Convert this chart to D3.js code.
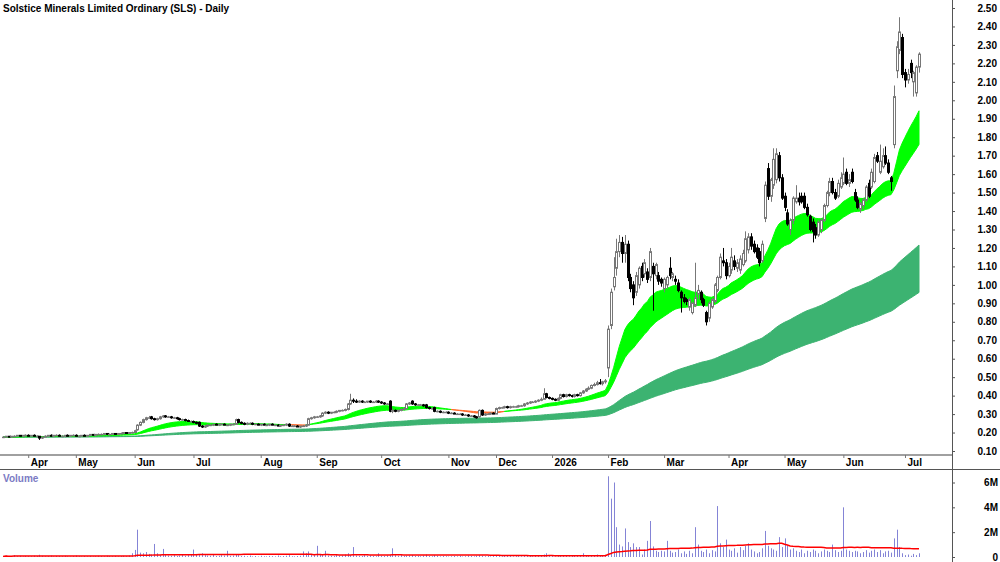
<!DOCTYPE html>
<html>
<head>
<meta charset="utf-8">
<script src="https://cdn.jsdelivr.net/npm/d3@7"></script>
<style>
  body { margin: 0; background: #fff; }
  svg { display: block; font-family: "Liberation Sans", Arial, sans-serif; font-weight: bold; }
</style>
</head>
<body>
<svg width="1000" height="562"></svg>
<script>
const TITLE = "Solstice Minerals Limited Ordinary (SLS) - Daily";

// daily candles, Mar 2025 - Jul 2026 (index = trading day)
const opens = [
  .175,.175,.18,.175,.18,.18,.185,.18,.185,.185,
  .18,.185,.18,.18,.17,.175,.18,.185,.18,.185,
  .185,.18,.18,.185,.18,.185,.185,.18,.18,.185,
  .18,.185,.19,.185,.19,.19,.19,.195,.19,.19,
  .195,.19,.195,.195,.2,.195,.2,.2,.215,.24,
  .255,.27,.28,.285,.275,.27,.275,.285,.29,.285,
  .285,.28,.28,.275,.27,.27,.265,.26,.26,.255,
  .255,.235,.23,.235,.24,.24,.245,.24,.245,.245,
  .24,.24,.245,.245,.27,.255,.25,.245,.25,.25,
  .245,.245,.24,.245,.24,.24,.245,.24,.24,.235,
  .24,.24,.245,.235,.235,.235,.23,.235,.235,.24,
  .275,.28,.285,.285,.29,.305,.31,.305,.31,.31,
  .315,.32,.32,.325,.355,.375,.37,.365,.37,.365,
  .365,.37,.365,.365,.37,.365,.36,.355,.37,.315,
  .32,.315,.32,.325,.33,.355,.37,.355,.35,.35,
  .35,.35,.335,.33,.335,.315,.315,.31,.31,.31,
  .305,.305,.3,.3,.3,.295,.295,.29,.29,.285,
  .285,.32,.295,.3,.3,.305,.3,.33,.335,.335,
  .34,.335,.34,.34,.34,.345,.345,.355,.36,.365,
  .365,.37,.375,.38,.41,.39,.385,.38,.375,.385,
  .405,.395,.405,.4,.395,.405,.4,.415,.425,.435,
  .44,.455,.46,.47,.465,.475,.55,.78,.99,1.09,
  1.18,1.23,1.17,1.22,1.04,1.0,.96,1.0,1.1,1.06,
  1.07,1.04,1.1,1.05,1.05,1.03,.98,1.0,1.09,1.04,
  1.03,1.01,.96,.93,.92,.88,.85,.89,.95,.96,
  .92,.85,.82,.88,.91,.97,1.04,1.13,1.12,1.05,
  1.08,1.13,1.09,1.08,1.11,1.13,1.19,1.26,1.22,1.2,
  1.18,1.13,1.36,1.63,1.48,1.54,1.57,1.7,1.58,1.48,
  1.39,1.3,1.35,1.45,1.47,1.48,1.48,1.42,1.37,1.34,
  1.31,1.27,1.3,1.35,1.43,1.5,1.56,1.5,1.48,1.53,
  1.55,1.61,1.55,1.61,1.5,1.46,1.41,1.43,1.46,1.55,
  1.53,1.56,1.7,1.61,1.64,1.7,1.66,1.58,1.76,2.16,
  2.27,2.34,2.15,2.11,2.2,2.1,2.04,2.18
];
const highs = [
  .18,.18,.18,.18,.185,.185,.185,.185,.19,.19,
  .185,.19,.185,.18,.18,.185,.185,.19,.185,.19,
  .19,.185,.185,.19,.185,.19,.19,.185,.185,.19,
  .185,.19,.19,.19,.195,.195,.195,.195,.195,.195,
  .195,.195,.2,.2,.2,.2,.205,.215,.245,.26,
  .275,.285,.29,.29,.28,.28,.29,.295,.295,.29,
  .29,.285,.285,.28,.275,.275,.27,.265,.265,.26,
  .26,.24,.24,.245,.245,.245,.25,.245,.25,.25,
  .245,.245,.25,.275,.275,.26,.255,.255,.255,.255,
  .25,.25,.245,.25,.245,.245,.25,.245,.245,.24,
  .245,.25,.25,.24,.24,.24,.235,.24,.245,.28,
  .285,.29,.29,.295,.31,.315,.315,.31,.315,.32,
  .32,.325,.33,.36,.41,.385,.38,.375,.375,.37,
  .37,.375,.37,.375,.375,.37,.365,.36,.375,.33,
  .325,.325,.33,.335,.36,.365,.375,.36,.355,.355,
  .355,.355,.34,.335,.34,.32,.32,.315,.315,.315,
  .31,.31,.305,.305,.305,.3,.3,.295,.295,.29,
  .325,.325,.305,.305,.31,.31,.335,.34,.34,.345,
  .345,.345,.345,.345,.35,.35,.36,.365,.37,.37,
  .375,.38,.39,.44,.415,.395,.39,.385,.39,.41,
  .41,.41,.41,.405,.41,.41,.42,.43,.44,.45,
  .46,.47,.48,.49,.48,.49,.78,.98,1.15,1.25,
  1.27,1.26,1.27,1.24,1.06,1.02,1.07,1.1,1.12,1.14,
  1.09,1.2,1.12,1.12,1.07,1.04,1.04,1.05,1.15,1.07,
  1.05,1.03,.97,.95,.93,.93,.91,1.12,1.0,.97,
  .93,.86,.91,.93,1.01,1.05,1.17,1.2,1.14,1.12,
  1.2,1.16,1.14,1.16,1.19,1.29,1.28,1.28,1.24,1.22,
  1.2,1.24,1.56,1.66,1.58,1.74,1.74,1.72,1.6,1.5,
  1.41,1.36,1.48,1.54,1.5,1.5,1.5,1.44,1.38,1.36,
  1.33,1.35,1.36,1.44,1.51,1.58,1.58,1.52,1.57,1.61,
  1.69,1.63,1.6,1.63,1.52,1.48,1.45,1.47,1.54,1.57,
  1.63,1.71,1.72,1.76,1.74,1.75,1.68,1.59,2.08,2.32,
  2.45,2.36,2.17,2.17,2.22,2.16,2.19,2.26
];
const lows = [
  .17,.175,.175,.175,.175,.18,.18,.175,.18,.18,
  .18,.18,.175,.16,.165,.175,.175,.18,.175,.18,
  .18,.175,.175,.18,.18,.18,.18,.175,.18,.18,
  .18,.18,.185,.18,.185,.185,.185,.19,.185,.19,
  .19,.19,.19,.19,.195,.195,.195,.2,.21,.235,
  .25,.265,.275,.27,.265,.265,.27,.28,.28,.28,
  .275,.275,.27,.265,.265,.26,.26,.255,.25,.245,
  .23,.225,.225,.23,.235,.235,.24,.235,.24,.24,
  .235,.235,.24,.245,.25,.245,.24,.24,.245,.24,
  .24,.24,.235,.24,.235,.235,.24,.235,.235,.23,
  .235,.235,.23,.23,.23,.23,.225,.23,.23,.24,
  .27,.275,.28,.28,.285,.3,.3,.3,.305,.305,
  .31,.315,.315,.32,.35,.36,.36,.36,.36,.36,
  .36,.36,.36,.36,.36,.355,.35,.35,.31,.305,
  .31,.31,.315,.32,.33,.35,.35,.345,.345,.345,
  .34,.33,.325,.325,.31,.31,.305,.305,.305,.3,
  .3,.3,.295,.295,.29,.29,.285,.285,.28,.275,
  .28,.29,.29,.295,.295,.3,.3,.325,.33,.33,
  .33,.33,.335,.335,.335,.34,.34,.35,.355,.36,
  .36,.365,.37,.38,.385,.38,.375,.37,.37,.38,
  .39,.39,.395,.39,.39,.395,.395,.41,.42,.43,
  .435,.45,.455,.46,.455,.465,.5,.76,.97,1.05,
  1.15,1.12,1.12,1.02,.96,.89,.94,.98,1.02,1.04,
  1.01,1.02,.86,1.03,1.0,.99,.96,.98,1.03,1.02,
  1.0,.96,.85,.9,.89,.86,.84,.88,.92,.9,
  .88,.78,.8,.87,.9,.96,1.03,1.1,1.03,1.04,
  1.06,1.08,1.07,1.06,1.1,1.12,1.17,1.19,1.17,1.14,
  1.1,1.12,1.34,1.46,1.45,1.52,1.55,1.56,1.46,1.4,
  1.32,1.27,1.33,1.44,1.43,1.44,1.41,1.37,1.29,1.23,
  1.25,1.26,1.28,1.34,1.42,1.48,1.49,1.46,1.47,1.52,
  1.54,1.54,1.53,1.55,1.45,1.41,1.39,1.41,1.45,1.47,
  1.52,1.55,1.66,1.6,1.63,1.65,1.6,1.51,1.74,2.12,
  2.25,2.12,2.07,2.09,2.12,2.02,2.02,2.15
];
const closes = [
  .175,.18,.175,.18,.18,.185,.18,.185,.185,.18,
  .185,.18,.18,.17,.175,.18,.185,.18,.185,.185,
  .18,.18,.185,.18,.185,.185,.18,.18,.185,.18,
  .185,.19,.185,.19,.19,.19,.195,.19,.19,.195,
  .19,.195,.195,.2,.195,.2,.2,.21,.24,.255,
  .27,.28,.28,.275,.27,.275,.285,.29,.285,.285,
  .28,.28,.275,.27,.27,.265,.26,.26,.255,.25,
  .235,.23,.235,.24,.24,.245,.24,.245,.245,.24,
  .24,.245,.245,.27,.255,.25,.245,.25,.25,.245,
  .245,.24,.245,.24,.24,.245,.24,.24,.235,.24,
  .24,.245,.235,.235,.235,.23,.235,.235,.24,.275,
  .28,.285,.285,.29,.305,.31,.305,.31,.31,.315,
  .32,.32,.325,.355,.375,.37,.365,.37,.365,.365,
  .37,.365,.365,.37,.365,.36,.355,.355,.315,.32,
  .315,.32,.325,.33,.355,.36,.355,.35,.35,.35,
  .345,.335,.33,.33,.315,.315,.31,.31,.31,.305,
  .305,.3,.3,.3,.295,.295,.29,.29,.285,.28,
  .32,.295,.3,.3,.305,.3,.33,.335,.335,.34,
  .335,.34,.34,.34,.345,.345,.355,.36,.365,.365,
  .37,.375,.38,.41,.39,.385,.38,.375,.385,.405,
  .395,.405,.4,.395,.405,.4,.415,.425,.435,.44,
  .455,.46,.47,.465,.475,.48,.76,.96,1.04,1.18,
  1.23,1.17,1.22,1.04,.98,.93,1.05,1.09,1.04,1.12,
  1.03,1.18,1.06,1.11,1.02,1.01,1.03,1.04,1.05,1.06,
  1.02,.97,.93,.91,.91,.92,.9,.93,.97,.92,
  .89,.8,.9,.92,1.0,1.04,1.15,1.12,1.05,1.1,
  1.15,1.1,1.12,1.14,1.17,1.25,1.26,1.21,1.18,1.15,
  1.12,1.22,1.54,1.48,1.57,1.68,1.71,1.58,1.47,1.42,
  1.33,1.35,1.47,1.47,1.45,1.45,1.42,1.38,1.3,1.29,
  1.27,1.34,1.35,1.43,1.5,1.56,1.5,1.47,1.55,1.58,
  1.6,1.55,1.57,1.56,1.46,1.42,1.44,1.46,1.53,1.48,
  1.61,1.69,1.67,1.67,1.7,1.66,1.61,1.56,2.02,2.29,
  2.37,2.14,2.11,2.14,2.15,2.15,2.18,2.25
];
// volume, millions of shares
const volumes = [
  .05,.12,.03,.08,.15,.06,.1,.04,.09,.07,
  .06,.11,.08,.18,.1,.05,.07,.12,.04,.09,
  .08,.06,.1,.05,.03,.07,.12,.06,.04,.08,
  .05,.09,.04,.06,.1,.08,.05,.11,.07,.06,
  .09,.05,.08,.1,.06,.12,.3,.57,2.2,.35,
  .3,.4,.25,.2,1.05,.3,.15,.65,.2,.12,
  .1,.15,.08,.12,.2,.1,.15,.18,.6,.25,
  .2,.3,.15,.12,.1,.2,.08,.1,.15,.12,
  .5,.1,.12,.2,.15,.08,.1,.06,.12,.05,
  .08,.04,.1,.06,.05,.09,.07,.05,.12,.06,
  .08,.1,.15,.06,.05,.08,.1,.45,.3,.45,
  .2,.15,.9,.25,.15,.5,.12,.1,.08,.15,
  .1,.12,.2,.3,.15,.8,.12,.1,.08,.15,
  .1,.12,.08,.06,.3,.1,.08,.12,.15,.7,
  .15,.1,.2,.08,.1,.12,.15,.08,.1,.06,
  .12,.2,.08,.06,.15,.1,.05,.08,.06,.04,
  .06,.08,.05,.1,.04,.06,.12,.08,.05,.1,
  .15,.1,.06,.08,.05,.12,.08,.1,.06,.12,
  .08,.1,.05,.07,.12,.06,.1,.08,.12,.06,
  .1,.08,.12,.2,.3,.1,.08,.05,.1,.12,
  .08,.15,.06,.1,.12,.08,.15,.3,.12,.1,
  .15,.1,.2,.12,.15,.18,6.5,4.7,6.0,2.4,
  1.0,.85,2.3,1.2,.8,1.1,.8,.8,.2,.6,
  1.3,2.9,.85,.5,.4,.5,.45,1.3,.5,.35,
  .4,.6,.3,.45,.25,.5,.3,2.4,1.0,.5,
  .4,.6,.3,.55,.45,4.1,1.1,.8,1.4,.6,
  .5,.7,.35,.8,.55,.9,1.1,.6,.45,.3,
  .4,.7,2.1,.9,.7,.6,.5,1.6,.8,1.5,
  .9,.6,.7,.5,.4,.6,.3,.5,.4,.6,
  .5,.3,.45,.6,.5,.4,1.0,.55,.4,.5,
  4.0,.6,.5,.4,.5,.45,.3,.4,.55,.35,
  .5,.6,.4,.55,.3,.45,.5,.35,1.5,2.2,
  .8,.3,.15,.2,.1,.25,.15,.3
];

const monthLabels = ["Apr","May","Jun","Jul","Aug","Sep","Oct","Nov","Dec","2026","Feb","Mar","Apr","May","Jun","Jul"];
const monthStarts = [9, 26, 47, 68, 92, 112, 135, 159, 176, 196, 216, 236, 259, 279, 300, 322];
const priceTicks = d3.range(1, 26).map(d => d / 10);
const volumeTicks = [0, 2, 4, 6];

// moving average periods
const FAST = 21, SLOW = 40, LONG1 = 150, LONG2 = 250, VOL_MA = 63;

function ema(values, n) {
  const k = 2 / (n + 1);
  let prev = values[0];
  return values.map(v => (prev = prev + k * (v - prev)));
}

function sma(values, n) {
  return values.map((v, i) => d3.mean(values.slice(Math.max(0, i - n + 1), i + 1)));
}

const svg = d3.select("svg");
const axisX = 952;

const x = d3.scaleLinear().domain([0, closes.length - 1]).range([3, 919]);
const y = d3.scaleLinear().domain([0.1, 2.5]).range([451, 8]);
const yv = d3.scaleLinear().domain([0, 6]).range([557, 482.5]);

const fast = ema(closes, FAST), slow = ema(closes, SLOW);
const long1 = ema(closes, LONG1), long2 = ema(closes, LONG2);
const volMa = sma(volumes, VOL_MA);

// long term band
svg.append("path")
  .datum(closes.map((c, i) => i))
  .attr("fill", "#3cb371")
  .attr("stroke", "#3cb371")
  .attr("d", d3.area().x(i => x(i)).y0(i => y(long2[i])).y1(i => y(long1[i])));

// short term band, green when rising, orange when crossed
const runs = [];
let cur = null;
for (let i = 0; i < closes.length; i++) {
  const up = fast[i] >= slow[i];
  if (!cur || cur.up !== up) {
    cur = { up, idx: i > 0 ? [i - 1] : [] };
    runs.push(cur);
  }
  cur.idx.push(i);
}
const bandArea = d3.area().x(i => x(i)).y0(i => y(slow[i])).y1(i => y(fast[i]));
svg.append("g")
  .selectAll("path")
  .data(runs)
  .join("path")
  .attr("fill", d => d.up ? "#00ff00" : "#ff6a2a")
  .attr("stroke", d => d.up ? "#00ff00" : "#ff6a2a")
  .attr("stroke-width", 1)
  .attr("d", d => bandArea(d.idx));

// candles
const candles = svg.append("g")
  .selectAll("g")
  .data(closes.map((c, i) => i))
  .join("g")
  .attr("transform", i => `translate(${Math.round(x(i)) + 0.5},0)`);

candles.append("line")
  .attr("y1", i => y(highs[i]))
  .attr("y2", i => y(lows[i]))
  .attr("stroke", i => closes[i] >= opens[i] ? "#777" : "#000");

candles.append("rect")
  .attr("x", -1)
  .attr("width", 2)
  .attr("y", i => y(Math.max(opens[i], closes[i])))
  .attr("height", i => Math.max(0.5, Math.abs(y(opens[i]) - y(closes[i]))))
  .attr("fill", i => closes[i] >= opens[i] ? "#fff" : "#000")
  .attr("stroke", i => closes[i] >= opens[i] ? "#777" : "#000");

// volume bars + average
svg.append("g")
  .selectAll("line")
  .data(volumes)
  .join("line")
  .attr("x1", (v, i) => Math.round(x(i)) + 0.5)
  .attr("x2", (v, i) => Math.round(x(i)) + 0.5)
  .attr("y1", yv(0))
  .attr("y2", v => yv(v))
  .attr("stroke", "#8484d6");

svg.append("path")
  .datum(volMa)
  .attr("fill", "none")
  .attr("stroke", "#ff0000")
  .attr("stroke-width", 1.5)
  .attr("d", d3.line().x((v, i) => x(i)).y(v => yv(v)));

// frame lines
svg.append("line").attr("x1", 0).attr("x2", axisX).attr("y1", 455).attr("y2", 455)
  .attr("stroke", "#a0a0a0").attr("stroke-width", 2);
svg.append("line").attr("x1", 0).attr("x2", 1000).attr("y1", 469.5).attr("y2", 469.5)
  .attr("stroke", "#555");
svg.append("line").attr("x1", axisX + 0.5).attr("x2", axisX + 0.5).attr("y1", 0).attr("y2", 562)
  .attr("stroke", "#555");

// axes
const gx = svg.append("g")
  .attr("transform", "translate(0,455)")
  .call(d3.axisBottom(x).tickValues(monthStarts).tickSize(3)
    .tickFormat((d, i) => monthLabels[i]));
gx.select(".domain").remove();
gx.selectAll("line").attr("stroke", "#777");
gx.selectAll("text")
  .attr("text-anchor", "start")
  .attr("x", 2)
  .attr("y", 10.5)
  .attr("dy", "0")
  .attr("fill", "#000")
  .style("font-size", "10px");

const gy = svg.append("g")
  .attr("transform", `translate(${axisX},0)`)
  .call(d3.axisRight(y).tickValues(priceTicks).tickSize(3).tickFormat(d3.format(".2f")));
gy.select(".domain").remove();
gy.selectAll("line").attr("stroke", "#555");
gy.selectAll("text").attr("x", 45).attr("text-anchor", "end").attr("fill", "#000").style("font-size", "10px");

const gv = svg.append("g")
  .attr("transform", `translate(${axisX},0)`)
  .call(d3.axisRight(yv).tickValues(volumeTicks).tickSize(3).tickFormat(d => d ? d + "M" : "0"));
gv.select(".domain").remove();
gv.selectAll("line").attr("stroke", "#555");
gv.selectAll("text").attr("x", 46).attr("text-anchor", "end").attr("fill", "#000").style("font-size", "10px");

svg.append("text").attr("x", 3).attr("y", 12).style("font-size", "10px").text(TITLE);
svg.append("text").attr("x", 3).attr("y", 482).style("font-size", "10px").attr("fill", "#7b7bc4").text("Volume");
</script>
</body>
</html>
